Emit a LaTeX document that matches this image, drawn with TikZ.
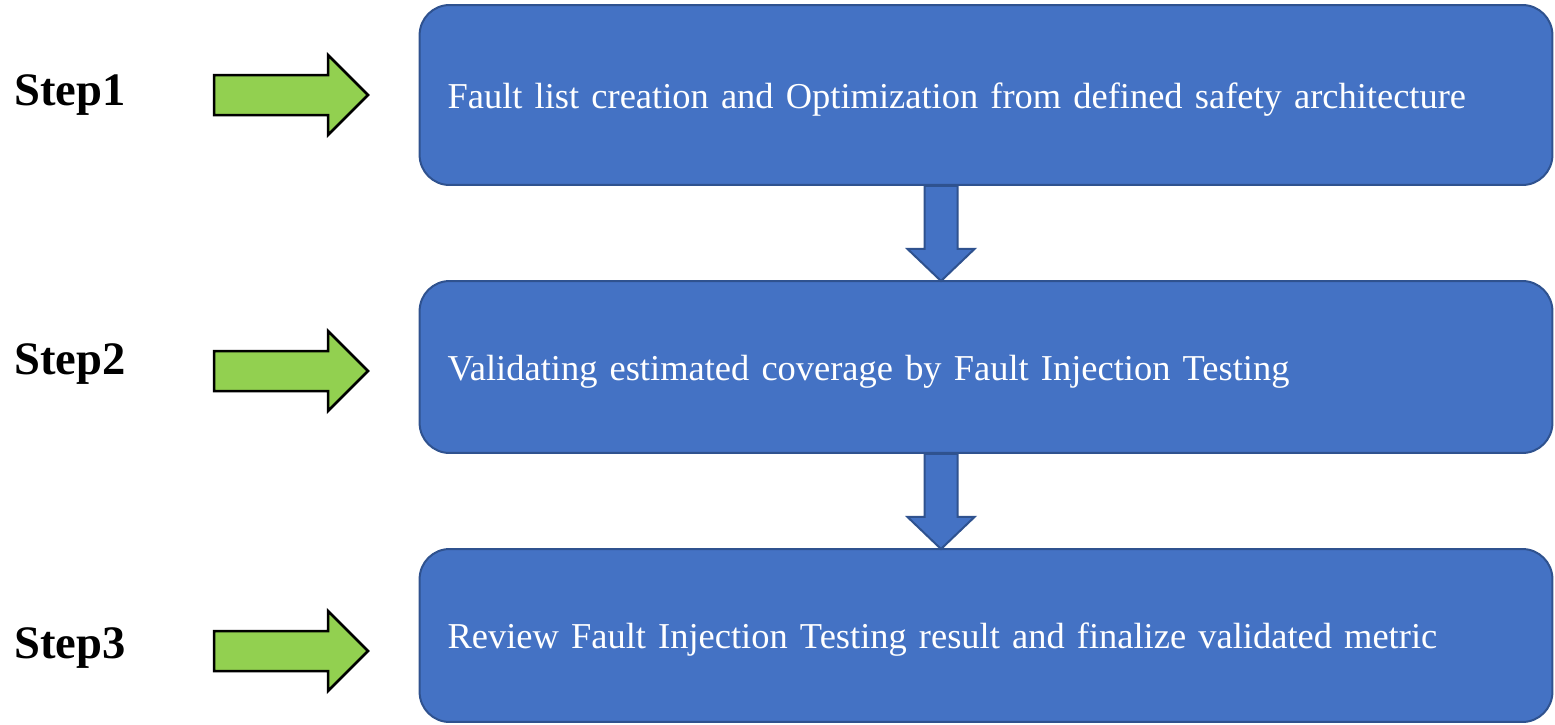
\documentclass[tikz,border=0pt]{standalone}
\usepackage{fontspec}
\setmainfont{Liberation Serif}
\usetikzlibrary{calc}
\definecolor{boxblue}{HTML}{4472C4}
\definecolor{boxline}{HTML}{2F528F}
\definecolor{stepgreen}{HTML}{92D050}
\tikzset{
    stagebox/.style = {draw = boxline, fill = boxblue, line width = 0.04cm, rounded corners = 0.6cm,
        text = white, font = \fontsize{20.75}{25}\selectfont, align = left,
        minimum width = 22.66cm, text width = 21.54cm, inner xsep = 0.56cm,
        text height = 0.7cm, text depth = 0.18cm},
    steplabel/.style = {anchor = base west, inner sep = 0, font = \fontsize{26.5}{30}\bfseries\selectfont},
    greenarrow/.style = {draw = black, fill = stepgreen, line width = 0.05cm},
    bluearrow/.style = {draw = boxline, fill = boxblue, line width = 0.04cm}
}
\begin{document}
\begin{tikzpicture}[x = 0.02cm, y = -0.02cm]
        \useasboundingbox (0, 0) rectangle (1555, 724);

        % stages
        \node[stagebox, minimum height = 3.6cm] (b1) at (986, 95) {Fault list creation and Optimization from defined safety architecture};
        \node[stagebox, minimum height = 3.44cm] (b2) at (986, 367) {Validating estimated coverage by Fault Injection Testing};
        \node[stagebox, minimum height = 3.46cm] (b3) at (986, 635.5) {Review Fault Injection Testing result and finalize validated metric};

        % step labels
        \node[steplabel] (s1) at (14, 105) {Step1};
        \node[steplabel] (s2) at (14, 374) {Step2};
        \node[steplabel] (s3) at (14, 658) {Step3};

        % green arrows
        \coordinate (g1) at (214, 95);
        \coordinate (g2) at (214, 371);
        \coordinate (g3) at (214, 651);
        \foreach \g in {g1, g2, g3}
            \draw[greenarrow] (\g) ++(0, -20) -- ++(114, 0) -- ++(0, -20) -- ++(40, 40) -- ++(-40, 40) -- ++(0, -20) -- ++(-114, 0) -- cycle;

        % arrows between stages
        \coordinate (d) at (941, 0);
        \draw[bluearrow] (b1.south -| d) ++(-16.5, 0) -- ++(0, 63) -- ++(-17, 0) -- ++(33.5, 32) -- ++(33.5, -32) -- ++(-17, 0) -- ++(0, -63) -- cycle;
        \draw[bluearrow] (b2.south -| d) ++(-16.5, 0) -- ++(0, 63) -- ++(-17, 0) -- ++(33.5, 32) -- ++(33.5, -32) -- ++(-17, 0) -- ++(0, -63) -- cycle;

    \end{tikzpicture}
\end{document}
